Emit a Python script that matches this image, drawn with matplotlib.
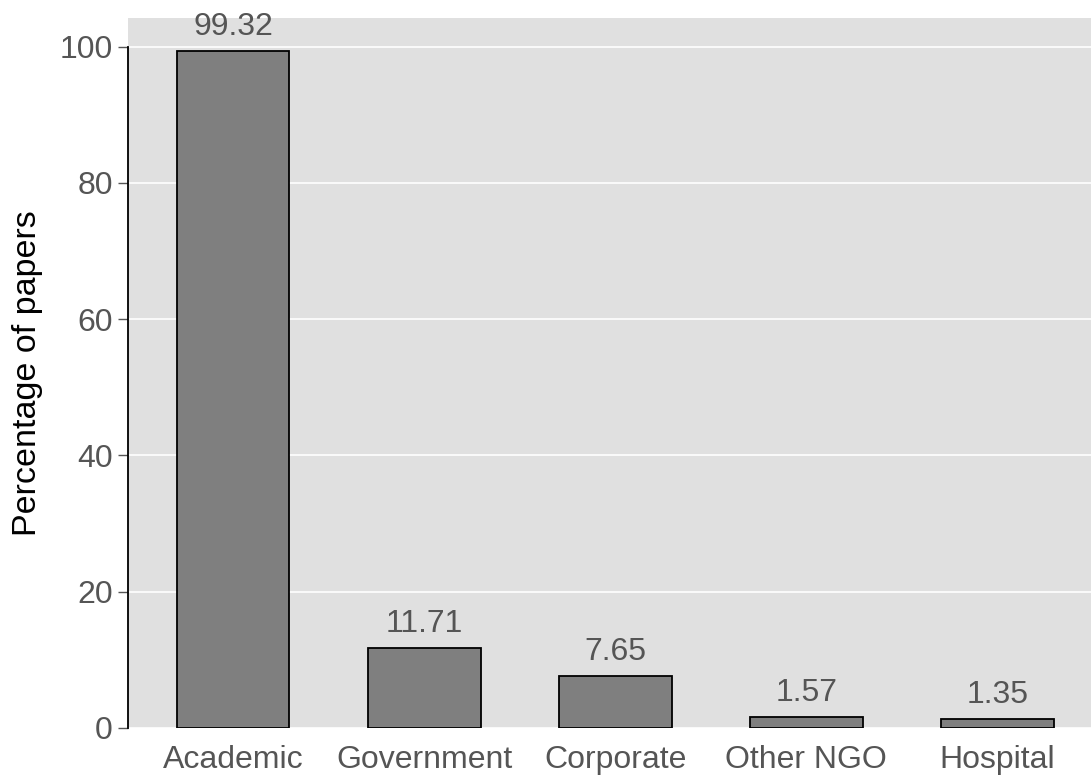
import numpy as np
import matplotlib.pyplot as plt

plt.rcParams['font.family'] = ['Liberation Sans', 'DejaVu Sans']

categories = ["Academic", "Government", "Corporate", "Other NGO", "Hospital"]
values = [99.32, 11.71, 7.65, 1.57, 1.35]
yticks = [0, 20, 40, 60, 80, 100]

fig = plt.figure(figsize=(10.91, 7.79), dpi=100)
ax = fig.add_axes([0.1173, 0.0655, 0.8827, 0.9115])
ax.set_facecolor('#E0E0E0')

x = np.arange(len(categories))
ax.bar(x, values, width=0.59, color='#7F7F7F', edgecolor='black', linewidth=1.3, zorder=3)
for xi, v in zip(x, values):
    ax.text(xi, v + 1.3, f"{v:.2f}", ha='center', va='bottom', fontsize=23, color='#555555')

ax.set_xlim(-0.55, 4.49)
ax.set_ylim(0, 104.2)
ax.set_yticks(yticks)
ax.set_xticks(x)
ax.set_xticklabels(categories)
ax.yaxis.grid(True, color='white', linewidth=1.2, zorder=0)
ax.set_axisbelow(True)
for s in ['top', 'right', 'bottom']:
    ax.spines[s].set_visible(False)
ax.spines['left'].set_bounds(0, 100)
ax.spines['left'].set_linewidth(1.3)
ax.tick_params(axis='y', labelsize=23, labelcolor='#555555', color='#555555', length=7, width=1, pad=4)
ax.tick_params(axis='x', labelsize=23, labelcolor='#555555', length=0, pad=12)
ax.set_ylabel("Percentage of papers", fontsize=24.5, color='black', labelpad=12)

fig.savefig("out.png", dpi=100)
